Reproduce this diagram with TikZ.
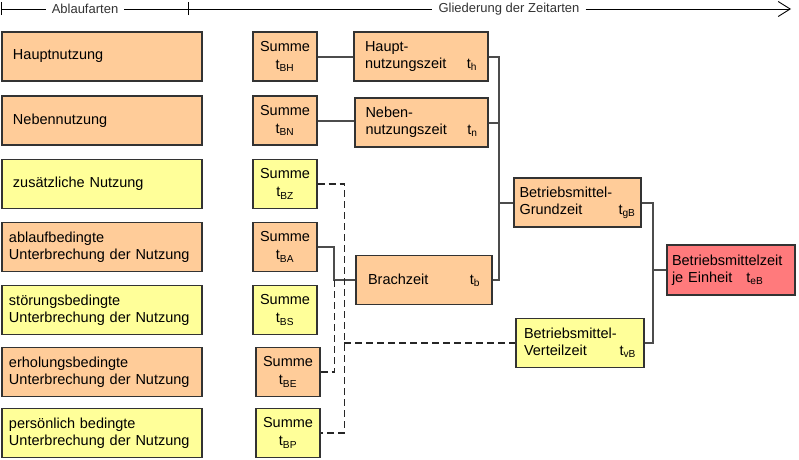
\documentclass[tikz,border=0pt]{standalone}
\usepackage{fontspec}
\setmainfont{Liberation Sans}
\usetikzlibrary{arrows.meta}

\definecolor{peach}{RGB}{255,204,153}
\definecolor{lemon}{RGB}{255,255,153}
\definecolor{rose}{RGB}{255,122,124}
\newcommand{\zt}[1]{t\textsubscript{#1}}

\tikzset{
  box/.style={draw=black!80, line width=1.3pt, inner sep=0pt, minimum height=49pt,
    font=\fontsize{14.5}{17}\selectfont},
  artbox/.style={box, minimum width=200pt, text width=186pt, align=left},
  sumbox/.style={box, minimum width=64pt, align=center},
  zeitbox/.style={box, align=left},
  conn/.style={draw=black!70, line width=2pt},
  dconn/.style={draw=black!85, line width=1.5pt, dash pattern=on 7pt off 4pt},
  hdr/.style={fill=white, inner xsep=6pt, inner ysep=1pt, text=black!80,
    font=\fontsize{13}{15}\selectfont}
}

\begin{document}
\begin{tikzpicture}[x=1pt, y=-1pt]
    \useasboundingbox (0,0) rectangle (799,459);

    % Kopfzeile
    \coordinate (lineL) at (1,9);
    \coordinate (lineR) at (791,9);
    \coordinate (tick) at (188,9);
    \node[hdr] (hdrA) at (85,9) {Ablaufarten};
    \node[hdr] (hdrG) at (509,9) {Gliederung der Zeitarten};
    \draw[line width=0.9pt] (lineL) -- (hdrA);
    \draw[line width=0.9pt] (hdrA) -- (hdrG);
    \draw[line width=0.9pt, -{Straight Barb[length=12pt, width=15pt]}] (hdrG) -- (lineR);
    \draw[line width=0.9pt] ([yshift=-6pt]lineL) -- ([yshift=7pt]lineL);
    \draw[line width=0.9pt] ([yshift=-6pt]tick) -- ([yshift=7pt]tick);

    % Ablaufarten
    \node[artbox, fill=peach] (aH) at (102,56.5) {\hspace*{4pt}Hauptnutzung};
    \node[artbox, fill=peach] (aN) at (102,120.5) {\hspace*{4pt}Nebennutzung};
    \node[artbox, fill=lemon] (aZ) at (102,184) {\hspace*{4pt}zusätzliche Nutzung};
    \node[artbox, fill=peach] (aA) at (102,247) {ablaufbedingte\\Unterbrechung der Nutzung};
    \node[artbox, fill=lemon] (aS) at (102,310) {störungsbedingte\\Unterbrechung der Nutzung};
    \node[artbox, fill=peach] (aE) at (102,372) {erholungsbedingte\\Unterbrechung der Nutzung};
    \node[artbox, fill=lemon] (aP) at (102,433) {persönlich bedingte\\Unterbrechung der Nutzung};

    % Summen
    \node[sumbox, fill=peach] (sBH) at (285,56.5) {Summe\\[1pt]\zt{BH}};
    \node[sumbox, fill=peach] (sBN) at (285,120.5) {Summe\\[1pt]\zt{BN}};
    \node[sumbox, fill=lemon] (sBZ) at (285,184) {Summe\\[1pt]\zt{BZ}};
    \node[sumbox, fill=peach] (sBA) at (285,247) {Summe\\[1pt]\zt{BA}};
    \node[sumbox, fill=lemon] (sBS) at (285,310) {Summe\\[1pt]\zt{BS}};
    \node[sumbox, fill=peach] (sBE) at (288,372) {Summe\\[1pt]\zt{BE}};
    \node[sumbox, fill=lemon] (sBP) at (288,433) {Summe\\[1pt]\zt{BP}};

    % Zeitarten
    \node[zeitbox, fill=peach, minimum width=134pt, text width=112pt] (haupt) at (421,56.5)
        {Haupt-\\nutzungszeit\hfill\zt{h}};
    \node[zeitbox, fill=peach, minimum width=133pt, text width=112pt] (neben) at (421.5,122.5)
        {Neben-\\nutzungszeit\hfill\zt{n}};
    \node[zeitbox, fill=peach, minimum width=136pt, text width=112pt] (brach) at (424,280)
        {Brachzeit\hfill\zt{b}};
    \node[zeitbox, fill=peach, minimum width=127pt, text width=116pt] (grund) at (577.5,202.5)
        {Betriebsmittel-\\Grundzeit\hfill\zt{gB}};
    \node[zeitbox, fill=lemon, minimum width=128pt, text width=112pt] (vert) at (580,343)
        {Betriebsmittel-\\Verteilzeit\hfill\zt{vB}};
    \node[zeitbox, fill=rose, minimum width=128pt, minimum height=50pt, text width=118pt] (einheit) at (731,270)
        {Betriebsmittelzeit\\je Einheit\hspace{14pt}\zt{eB}};

    % Verbindungen
    \path (grund.west) ++(-14,0) coordinate (busG);
    \path (grund.east) ++(11,0) coordinate (busE);
    \path (brach.west) ++(-21,0) coordinate (busB);
    \path (vert.west) ++(-171,0) coordinate (busV);

    \draw[conn] (sBH.east) -- (sBH.east -| haupt.west);
    \draw[conn] (sBN.east) -- (sBN.east -| neben.west);
    \draw[conn] (haupt.east) -| (busG) |- (brach.east);
    \draw[conn] (neben.east) -- (neben.east -| busG);
    \draw[conn] (busG) -- (grund.west);
    \draw[conn] (grund.east) -| (busE) |- (vert.east);
    \draw[conn] (busE |- einheit.west) -- (einheit.west);
    \draw[conn] (sBA.east) -| (busB) -- (brach.west);
    \draw[dconn] (sBE.east) -| (busB);
    \draw[dconn] (sBZ.east) -| (busV |- sBP.east) -- (sBP.east);
    \draw[dconn] (busV) -- (vert.west);
  \end{tikzpicture}
\end{document}
